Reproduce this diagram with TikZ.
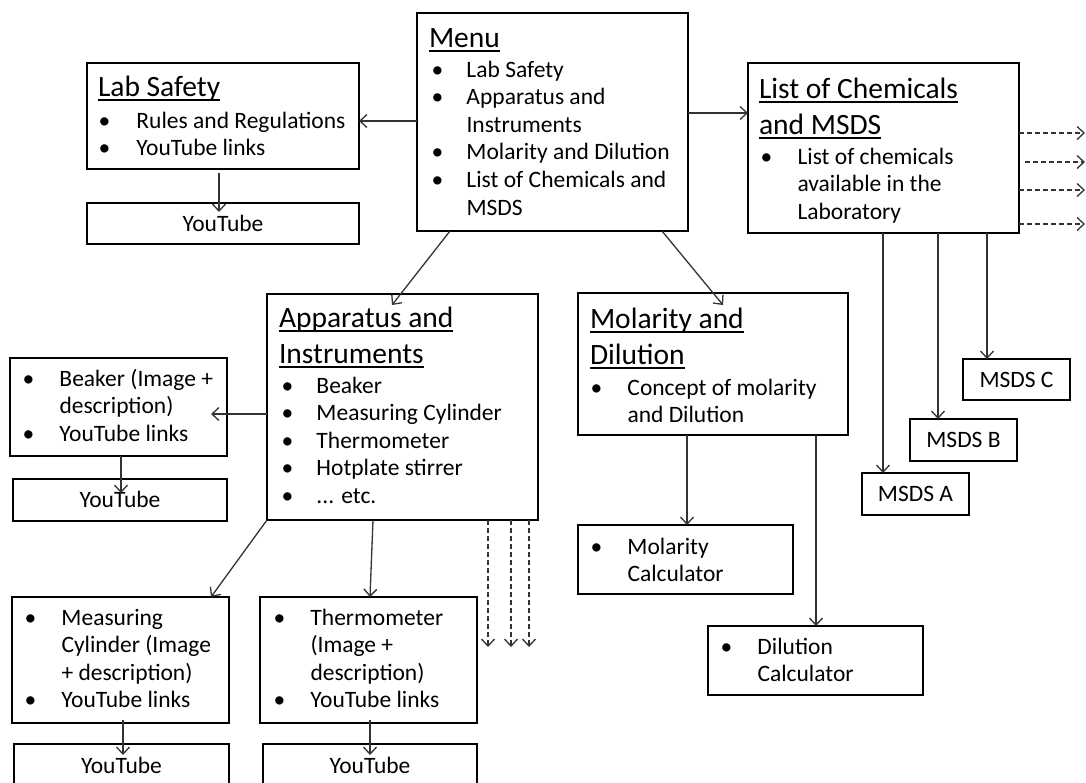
\documentclass[tikz,border=0pt]{standalone}
\usepackage{fontspec}
\setmainfont{Carlito}
\usetikzlibrary{arrows.meta,calc}
\newcommand\bodyf{\fontsize{23.5}{27.6}\selectfont}
\newcommand\titf{\fontsize{29.5}{36}\selectfont}
\newcommand\B[1]{\makebox[#1pt][l]{•}}
\newcommand\I[1]{\hspace*{#1pt}}
\newcommand\U[1]{\setbox0\hbox{#1}\rlap{\rule[-5pt]{\wd0}{1.6pt}}\box0}
\newcommand\st{\rule{0pt}{20pt}}
\newcommand\stt{\rule{0pt}{25pt}}
\newcommand\bx[6]{\node[box, minimum width={(#4-#2)*1pt}, minimum height={(#5-#3)*1pt}] (#1) at ({(#2+#4)/2},{(#3+#5)/2}) {#6};}
\tikzset{
  box/.style={draw=black, line width=2.6pt, inner sep=0pt, outer sep=0pt, font=\bodyf, text height=15pt, text depth=0pt},
  txt/.style={anchor=north west, inner sep=0pt, outer sep=0pt, align=left, font=\bodyf},
  ttl/.style={anchor=north west, inner sep=0pt, outer sep=0pt, align=left, font=\titf},
  arr/.style={draw=black!80, line width=1.3pt, -{Straight Barb[length=7pt,width=13pt]}},
  darr/.style={arr, dash pattern=on 5pt off 3pt}
}
\begin{document}
\begin{tikzpicture}[x=1pt,y=-1pt]
\fill[white] (0,0) rectangle (1086,782);
\useasboundingbox (0,0) rectangle (1086,782);
% boxes
\bx{menu}{417}{13}{688}{231}{}
\bx{lab}{87}{63}{359}{169}{}
\bx{ytlab}{87}{203}{359}{244}{YouTube}
\bx{list}{748}{63}{1019}{233}{}
\bx{app}{267}{294}{538}{520}{}
\bx{mol}{578}{293}{848}{435}{}
\bx{beak}{10}{358}{227}{456}{}
\bx{ytbeak}{13}{479}{227}{521}{YouTube}
\bx{mc}{12}{597}{229}{723}{}
\bx{ytmc}{14}{744}{229}{787}{YouTube}
\bx{th}{260}{597}{477}{723}{}
\bx{ytth}{263}{744}{477}{787}{YouTube}
\bx{molc}{578}{525}{793}{594}{}
\bx{dilc}{708}{626}{923}{695}{}
\bx{msc}{963}{359}{1070}{400}{MSDS C}
\bx{msb}{910}{419}{1017}{461}{MSDS B}
\bx{msa}{862}{473}{969}{515}{MSDS A}
% titles
\node[ttl] (menu-t) at (429,22) {\stt\U{Menu}};
\node[ttl] (lab-t) at (98,71) {\stt\U{Lab Safety}};
\node[ttl] (list-t) at (759,73) {\stt\U{List of Chemicals}\\\U{and MSDS}};
\node[ttl] (app-t) at (279,302) {\stt\U{Apparatus and}\\\U{Instruments}};
\node[ttl] (mol-t) at (590,303) {\stt\U{Molarity and}\\\U{Dilution}};
% lists
\node[txt] (menu-l) at (431.5,57) {\st\B{35}Lab Safety\\\B{35}Apparatus and\\\I{35}Instruments\\\B{35}Molarity and Dilution\\\B{35}List of Chemicals and\\\I{35}MSDS};
\node[txt] (lab-l) at (98.5,108) {\st\B{38}Rules and Regulations\\\B{38}YouTube links};
\node[txt] (list-l) at (760.5,144) {\st\B{37}List of chemicals\\\I{37}available in the\\\I{37}Laboratory};
\node[txt] (app-l) at (281.5,373) {\st\B{35}Beaker\\\B{35}Measuring Cylinder\\\B{35}Thermometer\\\B{35}Hotplate stirrer\\\B{35}... etc.};
\node[txt] (mol-l) at (590.5,375) {\st\B{37}Concept of molarity\\\I{37}and Dilution};
\node[txt] (molc-l) at (590.5,534) {\st\B{37}Molarity\\\I{37}Calculator};
\node[txt] (dilc-l) at (720.5,634) {\st\B{37}Dilution\\\I{37}Calculator};
\node[txt] (beak-l) at (22.5,366) {\st\B{37}Beaker (Image +\\\I{37}description)\\\B{37}YouTube links};
\node[txt] (mc-l) at (24.5,605) {\st\B{37}Measuring\\\I{37}Cylinder (Image\\\I{37}+ description)\\\B{37}YouTube links};
\node[txt] (th-l) at (273.5,605) {\st\B{37}Thermometer\\\I{37}(Image +\\\I{37}description)\\\B{37}YouTube links};
% free ends
\coordinate (d1) at (488,647);
\coordinate (d2) at (511,647);
\coordinate (d3) at (529,647);
\coordinate (e1) at (1085,133);
\coordinate (e2) at (1085,162);
\coordinate (e3) at (1085,190);
\coordinate (e4) at (1085,224);
% connectors
\draw[arr] (menu.west |- 0,121) -- (lab.east |- 0,121);
\draw[arr] (menu.east |- 0,113) -- (list.west |- 0,113);
\draw[arr] ($(lab.south -| 219,0)+(0,4)$) -- ($(ytlab.north -| 219,0)+(0,9)$);
\draw[arr] (menu.south -| 450,0) -- ($(app.north -| 392,0)+(0,11)$);
\draw[arr] (menu.south -| 662,0) -- ($(mol.north -| 723,0)+(0,12)$);
\draw[arr] (app.west |- 0,414) -- ($(beak.east |- 0,414)+(-16,0)$);
\draw[arr] (beak.south -| 121,0) -- ($(ytbeak.north -| 121,0)+(0,14)$);
\draw[arr] (app.south west) -- (mc.north -| 211,0);
\draw[arr] (app.south -| 373,0) -- (th.north -| 370,0);
\draw[darr] (app.south -| d1) -- (d1);
\draw[darr] (app.south -| d2) -- (d2);
\draw[darr] (app.south -| d3) -- (d3);
\draw[darr] (list.east |- e1) -- (e1);
\draw[darr] ($(list.east |- e2)+(6,0)$) -- (e2);
\draw[darr] (list.east |- e3) -- (e3);
\draw[darr] (list.east |- e4) -- (e4);
\draw[arr] (list.south -| 883,0) -- (msa.north -| 883,0);
\draw[arr] (list.south -| 938,0) -- (msb.north -| 938,0);
\draw[arr] (list.south -| 987,0) -- (msc.north -| 987,0);
\draw[arr] (mol.south -| 687,0) -- (molc.north -| 687,0);
\draw[arr] (mol.south -| 816,0) -- (dilc.north -| 816,0);
\draw[arr] ($(mc.south -| 123,0)+(0,-3)$) -- ($(ytmc.north -| 123,0)+(0,11)$);
\draw[arr] ($(th.south -| 370,0)+(0,-3)$) -- ($(ytth.north -| 370,0)+(0,11)$);
\end{tikzpicture}
\end{document}
